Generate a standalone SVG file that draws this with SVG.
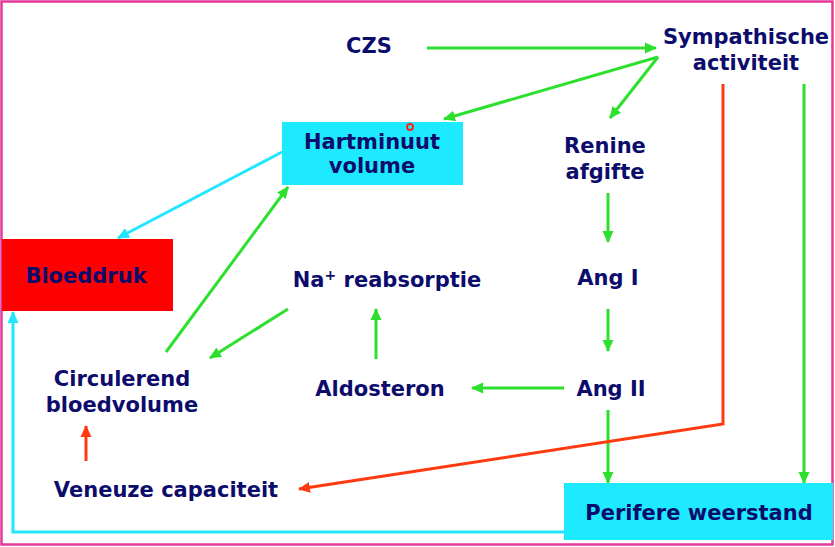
<svg xmlns="http://www.w3.org/2000/svg" width="835" height="547" viewBox="0 0 835 547">
<style>
text{font-family:"DejaVu Sans","Liberation Sans",sans-serif;font-weight:bold;font-size:21px;fill:#0c0c6c;text-anchor:middle}
.g{stroke:#2ee02e;stroke-width:3;fill:none}
.c{stroke:#22e6ff;stroke-width:3;fill:none}
.r{stroke:#ff3a10;stroke-width:3;fill:none}
</style>
<defs>
<marker id="ag" markerUnits="userSpaceOnUse" markerWidth="12" markerHeight="12" refX="11" refY="6" orient="auto"><path d="M0,0.5 L12,6 L0,11.5 z" fill="#2ee02e"/></marker>
<marker id="ac" markerUnits="userSpaceOnUse" markerWidth="12" markerHeight="12" refX="11" refY="6" orient="auto"><path d="M0,0.5 L12,6 L0,11.5 z" fill="#22e6ff"/></marker>
<marker id="ar" markerUnits="userSpaceOnUse" markerWidth="12" markerHeight="12" refX="11" refY="6" orient="auto"><path d="M0,0.5 L12,6 L0,11.5 z" fill="#ff3a10"/></marker>
</defs>
<rect x="1.5" y="1.5" width="831" height="543" fill="#fff" stroke="#e2399a" stroke-width="2.5"/>
<g id="connectors">
<path class="c" d="M564,532 L13,532 L13,312" marker-end="url(#ac)"/>
<path class="c" d="M282,152 L118,238" marker-end="url(#ac)"/>
<path class="g" d="M427,48 L656,48" marker-end="url(#ag)"/>
<path class="g" d="M658,57 L444,119" marker-end="url(#ag)"/>
<path class="g" d="M658,57 L610,118" marker-end="url(#ag)"/>
<path class="g" d="M608,193 L608,242" marker-end="url(#ag)"/>
<path class="g" d="M608,309 L608,351" marker-end="url(#ag)"/>
<path class="g" d="M564,388 L472,388" marker-end="url(#ag)"/>
<path class="g" d="M376,359 L376,309" marker-end="url(#ag)"/>
<path class="g" d="M288,309 L210,358" marker-end="url(#ag)"/>
<path class="g" d="M166,352 L288,187" marker-end="url(#ag)"/>
<path class="g" d="M804,84 L804,483" marker-end="url(#ag)"/>
<path class="g" d="M608,410 L608,483" marker-end="url(#ag)"/>
<path class="r" d="M723,84 L723,424 L299,489" marker-end="url(#ar)"/>
<path class="r" d="M86,461 L86,426" marker-end="url(#ar)"/>
</g>
<g id="czs"><text x="369" y="53">CZS</text></g>
<g id="sympathische"><text x="746" y="44">Sympathische</text><text x="746" y="70">activiteit</text></g>
<g id="hartminuut"><rect x="282" y="122" width="181" height="63" fill="#1eeaff"/><text x="372" y="149">Hartminuut</text><text x="372" y="173">volume</text><circle cx="410" cy="127" r="3" fill="none" stroke="#ff2020" stroke-width="2"/></g>
<g id="renine"><text x="605" y="153">Renine</text><text x="605" y="179">afgifte</text></g>
<g id="bloeddruk"><rect x="2" y="239" width="171" height="72" fill="#ff0000"/><text x="86" y="283">Bloeddruk</text></g>
<g id="na"><text x="387" y="287">Na<tspan font-size="14" dy="-7">+</tspan><tspan dy="7"> reabsorptie</tspan></text></g>
<g id="angI"><text x="608" y="285">Ang I</text></g>
<g id="circulerend"><text x="122" y="386">Circulerend</text><text x="122" y="412">bloedvolume</text></g>
<g id="aldosteron"><text x="380" y="396">Aldosteron</text></g>
<g id="angII"><text x="611" y="396">Ang II</text></g>
<g id="veneuze"><text x="166" y="497">Veneuze capaciteit</text></g>
<g id="perifere"><rect x="564" y="483" width="269" height="57" fill="#1eeaff"/><text x="699" y="520">Perifere weerstand</text></g>
</svg>
